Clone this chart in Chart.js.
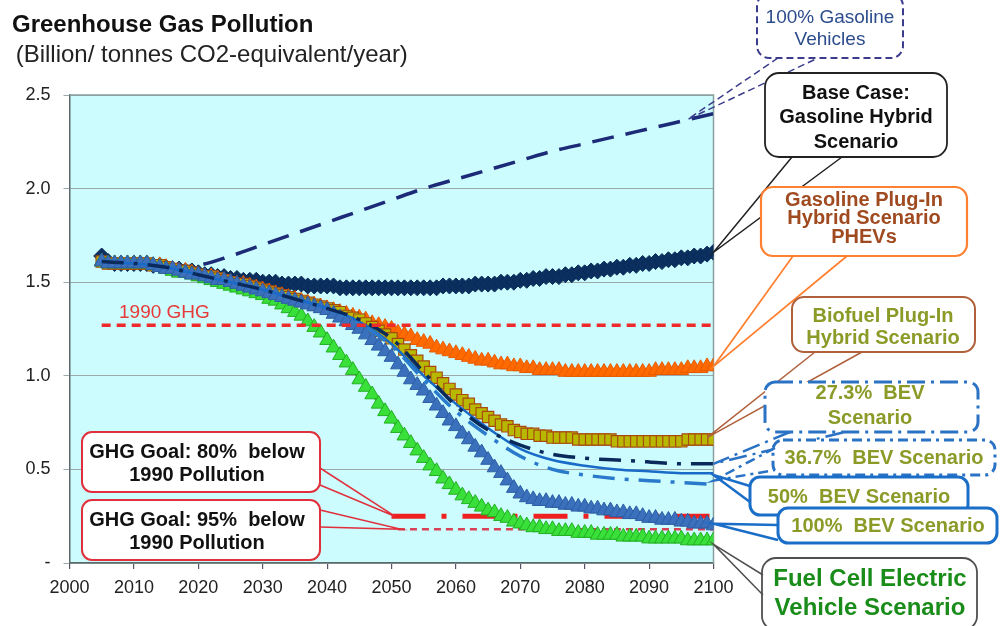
<!DOCTYPE html>
<html>
<head>
<meta charset="utf-8">
<script src="https://cdn.jsdelivr.net/npm/chart.js@4"></script>
<style>
  html,body{margin:0;padding:0;background:#fff;}
  #wrap{position:relative;width:1006px;height:626px;overflow:hidden;}
  canvas{display:block;}
</style>
</head>
<body>
<div id="wrap"><canvas id="c" width="1006" height="626"></canvas></div>
<script>
// ---------- DATA ----------
const years = []; for (let y = 2005; y <= 2100; y++) years.push(y);

const baseCase = [
 1.64,1.61,1.60,1.60,1.60,1.60,1.60,1.60,1.59,1.59,
 1.58,1.57,1.57,1.56,1.56,1.55,1.54,1.54,1.53,1.53,
 1.52,1.52,1.51,1.51,1.51,1.50,1.50,1.50,1.49,1.49,
 1.49,1.49,1.48,1.48,1.48,1.48,1.48,1.47,1.47,1.47,
 1.47,1.47,1.47,1.47,1.47,1.47,1.47,1.47,1.47,1.47,
 1.47,1.47,1.47,1.48,1.48,1.48,1.48,1.48,1.49,1.49,
 1.49,1.49,1.50,1.50,1.50,1.51,1.51,1.52,1.52,1.53,
 1.53,1.53,1.54,1.54,1.55,1.55,1.56,1.56,1.57,1.57,
 1.58,1.58,1.59,1.59,1.60,1.60,1.61,1.61,1.62,1.62,
 1.63,1.63,1.64,1.64,1.65,1.66];

const phev = [
 1.61,1.60,1.60,1.60,1.60,1.60,1.60,1.60,1.59,1.59,
 1.58,1.57,1.56,1.56,1.55,1.54,1.53,1.53,1.52,1.51,
 1.50,1.49,1.49,1.48,1.47,1.46,1.45,1.44,1.43,1.42,
 1.41,1.40,1.39,1.38,1.37,1.36,1.35,1.34,1.33,1.32,
 1.31,1.30,1.28,1.27,1.26,1.25,1.23,1.22,1.21,1.19,
 1.18,1.17,1.15,1.14,1.13,1.12,1.11,1.10,1.09,1.08,
 1.08,1.07,1.06,1.06,1.05,1.05,1.04,1.04,1.03,1.03,
 1.03,1.03,1.02,1.02,1.02,1.02,1.02,1.02,1.02,1.02,
 1.02,1.02,1.02,1.02,1.02,1.02,1.03,1.03,1.03,1.03,
 1.03,1.04,1.04,1.04,1.05,1.05];

const biofuel = [
 1.61,1.60,1.60,1.60,1.60,1.60,1.60,1.60,1.59,1.59,
 1.58,1.57,1.56,1.56,1.55,1.54,1.53,1.53,1.52,1.51,
 1.50,1.49,1.49,1.48,1.47,1.46,1.45,1.44,1.43,1.42,
 1.41,1.40,1.39,1.38,1.37,1.36,1.35,1.34,1.32,1.31,
 1.30,1.28,1.26,1.24,1.22,1.20,1.17,1.14,1.11,1.08,
 1.05,1.02,0.99,0.96,0.93,0.90,0.87,0.85,0.82,0.80,
 0.78,0.76,0.74,0.73,0.71,0.70,0.69,0.69,0.68,0.68,
 0.67,0.67,0.67,0.67,0.66,0.66,0.66,0.66,0.66,0.66,
 0.65,0.65,0.65,0.65,0.65,0.65,0.65,0.65,0.65,0.65,
 0.65,0.66,0.66,0.66,0.66,0.66];

const bev100 = [
 1.61,1.60,1.60,1.60,1.60,1.60,1.60,1.60,1.59,1.58,
 1.57,1.57,1.56,1.55,1.54,1.54,1.53,1.52,1.51,1.51,
 1.50,1.49,1.48,1.47,1.46,1.45,1.44,1.43,1.42,1.41,
 1.40,1.39,1.38,1.37,1.36,1.35,1.33,1.31,1.29,1.27,
 1.25,1.22,1.19,1.16,1.13,1.10,1.06,1.02,0.98,0.95,
 0.92,0.88,0.84,0.80,0.76,0.73,0.69,0.66,0.62,0.59,
 0.55,0.51,0.48,0.44,0.40,0.37,0.35,0.34,0.33,0.33,
 0.32,0.32,0.31,0.31,0.30,0.30,0.29,0.29,0.28,0.28,
 0.27,0.27,0.26,0.26,0.25,0.24,0.24,0.23,0.23,0.23,
 0.22,0.22,0.21,0.21,0.21,0.20];

const fcev = [
 1.61,1.60,1.60,1.60,1.60,1.60,1.60,1.60,1.59,1.58,
 1.57,1.56,1.55,1.55,1.54,1.53,1.52,1.51,1.50,1.49,
 1.48,1.47,1.46,1.45,1.44,1.43,1.41,1.40,1.38,1.36,
 1.34,1.32,1.29,1.26,1.23,1.19,1.15,1.11,1.07,1.03,
 0.98,0.94,0.90,0.85,0.81,0.77,0.72,0.68,0.64,0.60,
 0.56,0.52,0.49,0.45,0.42,0.39,0.36,0.34,0.32,0.30,
 0.28,0.27,0.25,0.24,0.22,0.21,0.20,0.19,0.19,0.18,
 0.18,0.17,0.17,0.17,0.16,0.16,0.16,0.15,0.15,0.15,
 0.15,0.14,0.14,0.14,0.14,0.13,0.13,0.13,0.13,0.13,
 0.13,0.12,0.12,0.12,0.12,0.12];

const lineYears = [2005,2010,2015,2020,2025,2030,2035,2040,2045,2050,2055,2060,2065,2070,2075,2080,2085,2090,2095,2100];
const gasoline = [1.60,1.59,1.58,1.59,1.64,1.70,1.76,1.82,1.88,1.94,2.00,2.05,2.10,2.15,2.20,2.24,2.28,2.32,2.36,2.40];
const bev27 = [1.61,1.60,1.58,1.54,1.50,1.46,1.41,1.36,1.30,1.20,1.02,0.84,0.71,0.63,0.58,0.56,0.55,0.54,0.53,0.53];
const bev36 = [1.61,1.60,1.58,1.54,1.50,1.46,1.41,1.36,1.28,1.16,0.98,0.81,0.68,0.57,0.50,0.47,0.45,0.44,0.43,0.42];
const bev50 = [1.61,1.60,1.58,1.54,1.50,1.46,1.41,1.36,1.29,1.17,1.00,0.85,0.72,0.61,0.55,0.52,0.50,0.49,0.48,0.48];

const ghg1990Years = [2005,2100];
const ghg1990 = [1.27,1.27];
const goal80Years = [2050,2100];
const goal80 = [0.25,0.25];
const goal95Years = [2051,2100];
const goal95 = [0.18,0.18];

const yTickValues = [0,0.5,1.0,1.5,2.0,2.5];
const yTickLabels = ['-','0.5','1.0','1.5','2.0','2.5'];
const xTickLabels = ['2000','2010','2020','2030','2040','2050','2060','2070','2080','2090','2100'];

// ---------- HELPERS ----------
const FONT = '"Liberation Sans", Arial, sans-serif';
function pts(xs, ys){ return xs.map((x,i)=>({x:x, y:ys[i]})); }

function roundRect(ctx,x,y,w,h,r){
  ctx.beginPath();
  ctx.moveTo(x+r,y);
  ctx.arcTo(x+w,y,x+w,y+h,r);
  ctx.arcTo(x+w,y+h,x,y+h,r);
  ctx.arcTo(x,y+h,x,y,r);
  ctx.arcTo(x,y,x+w,y,r);
  ctx.closePath();
}

const callouts = [
  {box:[757,-6,146,64], r:12, stroke:'#3c3c8c', lw:2, dash:[7,4], tail:[[778,58],[818,58]], tip:[2096,2.37],
   lines:['100% Gasoline','Vehicles'], font:'19px '+FONT, color:'#2c4c8c', cx:830, y0:18, lh:22},
  {box:[765,73,182,84], r:14, stroke:'#222', lw:1.8, dash:[], tail:[[792,157],[842,157]], tip:[2100,1.66],
   lines:['Base Case:','Gasoline Hybrid','Scenario'], font:'bold 20px '+FONT, color:'#111', cx:856, y0:93, lh:24.5},
  {box:[761,187,206,69], r:12, stroke:'#ff8030', lw:2.2, dash:[], tail:[[793,256],[847,256]], tip:[2100,1.05],
   lines:['Gasoline Plug-In','Hybrid Scenario','PHEVs'], font:'bold 20px '+FONT, color:'#a04a20', cx:864, y0:200, lh:18.5},
  {box:[792,297,183,55], r:12, stroke:'#b0603a', lw:2, dash:[], tail:[[815,352],[862,352]], tip:[2099,0.67],
   lines:['Biofuel Plug-In','Hybrid Scenario'], font:'bold 20px '+FONT, color:'#8c9a28', cx:883, y0:316, lh:22},
  {box:[765,382,213,50], r:10, stroke:'#2a72c4', lw:3, dash:[18,6,3,6], tail:[[790,432],[845,432]], tip:[2100,0.53],
   lines:['27.3%  BEV','Scenario'], font:'bold 20px '+FONT, color:'#8c9a28', cx:870, y0:393, lh:25},
  {box:[773,440,222,35], r:10, stroke:'#2a72c4', lw:3, dash:[10,5,3,5], tail:[[775,448],[775,470]], tip:[2100,0.44],
   lines:['36.7%  BEV Scenario'], font:'bold 20px '+FONT, color:'#8c9a28', cx:884, y0:458, lh:22},
  {box:[750,477,218,38], r:10, stroke:'#1a6ec8', lw:3, dash:[], tail:[[750,486],[750,502]], tip:[2100,0.47],
   lines:['50%  BEV Scenario'], font:'bold 20px '+FONT, color:'#8c9a28', cx:859, y0:497, lh:22},
  {box:[778,508,219,35], r:10, stroke:'#1a6ec8', lw:3, dash:[], tail:[[778,525],[778,540]], tip:[2100,0.21],
   lines:['100%  BEV Scenario'], font:'bold 20px '+FONT, color:'#8c9a28', cx:888, y0:526, lh:22},
  {box:[762,558,215,72], r:14, stroke:'#505050', lw:1.8, dash:[], tail:[[763,575],[763,595]], tip:[2100,0.10],
   lines:['Fuel Cell Electric','Vehicle Scenario'], font:'bold 24px '+FONT, color:'#1a8c1a', cx:870, y0:579, lh:29},
  {box:[82,432,238,60], r:10, stroke:'#e0303c', lw:2, dash:[], tail:[[320,468],[320,485]], tip:[2050.5,0.25],
   lines:['GHG Goal: 80%  below','1990 Pollution'], font:'bold 20px '+FONT, color:'#111', cx:197, y0:452, lh:23},
  {box:[82,500,238,60], r:10, stroke:'#e0303c', lw:2, dash:[], tail:[[320,510],[320,527]], tip:[2051.5,0.18],
   lines:['GHG Goal: 95%  below','1990 Pollution'], font:'bold 20px '+FONT, color:'#111', cx:197, y0:520, lh:23}
];

const decor = {
  id:'decor',
  beforeDraw(chart){
    const {ctx, chartArea:a} = chart;
    ctx.save();
    ctx.fillStyle = '#ffffff';
    ctx.fillRect(0,0,chart.width,chart.height);
    ctx.fillStyle = '#ccfcfd';
    ctx.fillRect(a.left,a.top,a.right-a.left,a.bottom-a.top);
    ctx.fillStyle = '#111';
    ctx.textBaseline = 'alphabetic';
    ctx.textAlign = 'left';
    ctx.font = 'bold 24px '+FONT;
    ctx.fillText('Greenhouse Gas Pollution', 12, 32);
    ctx.font = '24px '+FONT;
    ctx.fillStyle = '#222';
    ctx.fillText(' (Billion/ tonnes CO2-equivalent/year)', 9, 62);
    ctx.restore();
  },
  beforeDatasetsDraw(chart){
    const {ctx, chartArea:a} = chart;
    ctx.save();
    ctx.strokeStyle = '#8a9e9e';
    ctx.lineWidth = 1.5;
    ctx.beginPath();
    ctx.moveTo(a.left,a.top); ctx.lineTo(a.right,a.top); ctx.lineTo(a.right,a.bottom);
    ctx.stroke();
    ctx.restore();
  },
  afterDatasetsDraw(chart){
    const {ctx} = chart;
    ctx.save();
    ctx.font = '19px '+FONT;
    ctx.fillStyle = '#e83838';
    ctx.textAlign = 'left';
    ctx.textBaseline = 'middle';
    ctx.fillText('1990 GHG', 119, 313);
    ctx.restore();
  },
  afterDraw(chart){
    const {ctx} = chart;
    const xs = chart.scales.x, ys = chart.scales.y;
    callouts.forEach(c=>{
      ctx.save();
      const [bx,by,bw,bh] = c.box;
      roundRect(ctx,bx,by,bw,bh,c.r);
      ctx.fillStyle = '#fff';
      ctx.fill();
      ctx.setLineDash(c.dash);
      ctx.strokeStyle = c.stroke;
      ctx.lineWidth = c.lw;
      ctx.stroke();
      const tx = xs.getPixelForValue(c.tip[0]);
      const ty = ys.getPixelForValue(c.tip[1]);
      ctx.lineWidth = Math.max(1.5, c.lw - 0.5);
      ctx.beginPath();
      ctx.moveTo(c.tail[0][0], c.tail[0][1]);
      ctx.lineTo(tx,ty);
      ctx.lineTo(c.tail[1][0], c.tail[1][1]);
      ctx.stroke();
      ctx.setLineDash([]);
      ctx.fillStyle = c.color;
      ctx.font = c.font;
      ctx.textAlign = 'center';
      ctx.textBaseline = 'middle';
      c.lines.forEach((t,i)=> ctx.fillText(t, c.cx, c.y0 + i*c.lh));
      ctx.restore();
    });
  }
};

const ds = [
  {label:'1990 GHG', data:pts(ghg1990Years, ghg1990), borderColor:'#ee2a2a', borderWidth:3.5, borderDash:[9,6], pointRadius:0, order:0},
  {label:'27.3% BEV', data:pts(lineYears, bev27), borderColor:'#0a2a5c', borderWidth:3.5, borderDash:[22,10,4,10], pointRadius:0, tension:0.4, cubicInterpolationMode:'monotone', order:1},
  {label:'36.7% BEV', data:pts(lineYears, bev36), borderColor:'#2a7acc', borderWidth:3.5, borderDash:[22,10,4,10], pointRadius:0, tension:0.4, cubicInterpolationMode:'monotone', order:1},
  {label:'50% BEV', data:pts(lineYears, bev50), borderColor:'#1a6ac8', borderWidth:2.5, pointRadius:0, tension:0.4, cubicInterpolationMode:'monotone', order:1},
  {label:'100% BEV', data:pts(years, bev100), borderColor:'#3568b0', borderWidth:2, pointStyle:'triangle', pointRadius:8.5, pointBackgroundColor:'#3a70bc', pointBorderColor:'#2d5ea6', pointBorderWidth:1, order:2},
  {label:'FCEV', data:pts(years, fcev), borderColor:'#22bb22', borderWidth:2, pointStyle:'triangle', pointRadius:8.5, pointBackgroundColor:'#3ae03a', pointBorderColor:'#22b022', pointBorderWidth:1, order:3},
  {label:'Biofuel PHEV', data:pts(years, biofuel), borderColor:'#a84a10', borderWidth:2, pointStyle:'rect', pointRadius:8, pointBackgroundColor:'#b8b800', pointBorderColor:'#a84a10', pointBorderWidth:1.2, order:4},
  {label:'PHEV', data:pts(years, phev), borderColor:'#f06000', borderWidth:2, pointStyle:'triangle', pointRadius:8.5, pointBackgroundColor:'#ff6a00', pointBorderColor:'#e85a00', pointBorderWidth:1, order:5},
  {label:'Base Case', data:pts(years, baseCase), borderColor:'#0a2e5c', borderWidth:2, pointStyle:'rectRot', pointRadius:8, pointBackgroundColor:'#0b3060', pointBorderColor:'#0a2a55', pointBorderWidth:1, order:6},
  {label:'100% Gasoline', data:pts(lineYears, gasoline), borderColor:'#1c2a78', borderWidth:3.5, borderDash:[22,12], pointRadius:0, tension:0.3, cubicInterpolationMode:'monotone', order:7},
  {label:'Goal 80%', data:pts(goal80Years, goal80), borderColor:'#ee2020', borderWidth:5, borderDash:[34,16,5,16], pointRadius:0, order:8},
  {label:'Goal 95%', data:pts(goal95Years, goal95), borderColor:'#d84055', borderWidth:2.5, borderDash:[7,5], pointRadius:0, order:8}
];
ds.forEach(d=>{ d.fill=false; d.borderCapStyle='butt'; });

new Chart(document.getElementById('c'), {
  type:'line',
  data:{datasets:ds},
  options:{
    responsive:false,
    devicePixelRatio:1,
    animation:false,
    events:[],
    layout:{padding:{top:95, right:292.5, left:0, bottom:0}},
    plugins:{legend:{display:false}, tooltip:{enabled:false}, title:{display:false}},
    scales:{
      x:{type:'linear', min:2000, max:2100,
         afterBuildTicks(s){ s.ticks = xTickLabels.map(v=>({value:Number(v)})); },
         ticks:{callback:(v)=>{ const i = xTickLabels.indexOf(String(v)); return i>=0 ? xTickLabels[i] : ''; },
                font:{size:18, family:FONT}, color:'#222', padding:8, maxRotation:0, autoSkip:false},
         grid:{display:true, drawOnChartArea:false, drawTicks:true, tickLength:6, color:'#556', lineWidth:1.2},
         border:{display:true, color:'#5a6a6a', width:1.5},
         afterFit(s){ s.height = 63; }
      },
      y:{min:0, max:2.5,
         afterBuildTicks(s){ s.ticks = yTickValues.map(v=>({value:v})); },
         ticks:{callback:(v)=>{ const i = yTickValues.indexOf(v); return i>=0 ? yTickLabels[i] : ''; },
                font:{size:18, family:FONT}, color:'#222', padding:13},
         grid:{color:'#9aaaaa', lineWidth:1, tickLength:6, drawTicks:true},
         border:{display:true, color:'#5a6a6a', width:1.5},
         afterFit(s){ s.width = 69.5; }
      }
    }
  },
  plugins:[decor]
});
</script>
</body>
</html>
